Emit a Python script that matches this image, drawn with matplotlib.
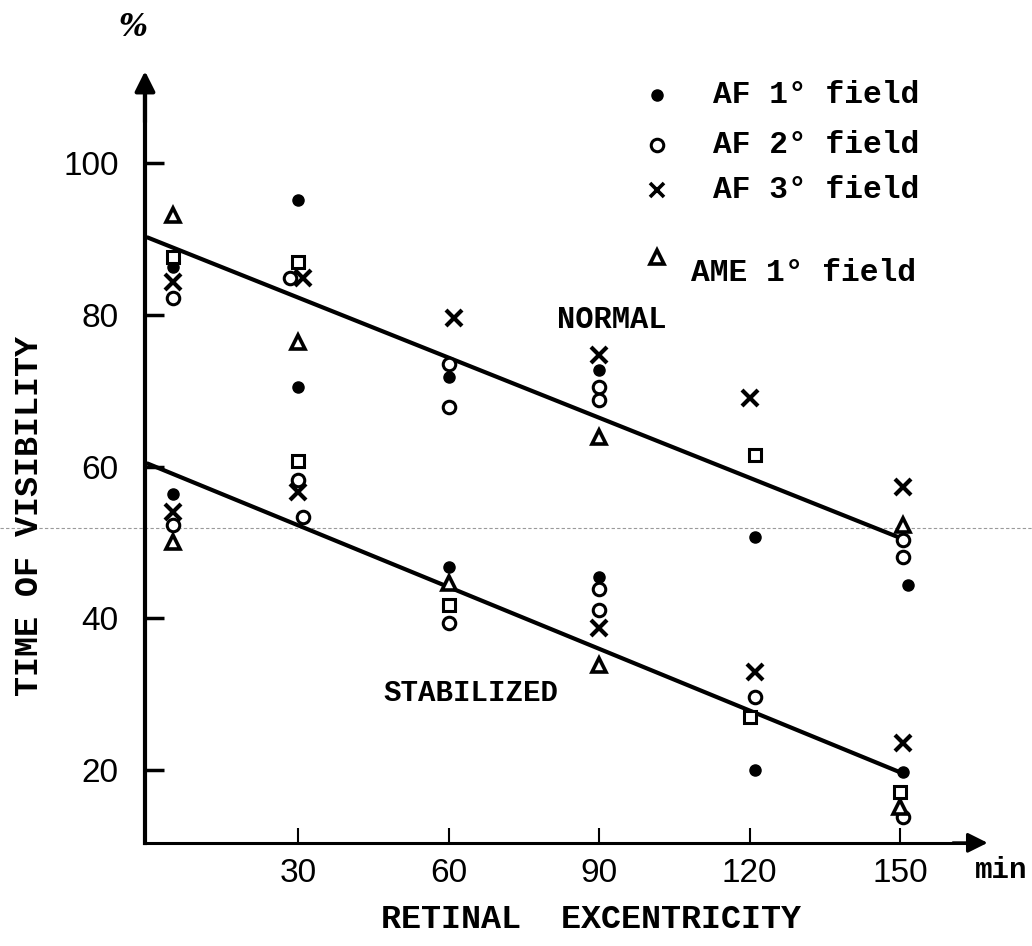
import matplotlib
matplotlib.use("Agg")
import matplotlib.pyplot as plt
from matplotlib.lines import Line2D

# ── Data ───────────────────────────────────────────────────────────────
af1_x = [5, 5, 30, 30, 60, 60, 90, 90, 121, 121, 151.5, 150.5]
af1_y = [86.3, 56.4, 95.1, 70.5, 71.8, 46.7, 72.7, 45.4, 50.7, 20.0, 44.4, 19.7]

af2_x = [5, 5, 28.5, 30, 31, 60, 60, 60, 90, 90, 90, 90, 121, 150.5, 150.5, 150.5]
af2_y = [82.2, 52.3, 84.8, 58.2, 53.4, 73.5, 67.8, 39.4, 70.5, 68.8, 43.8, 41.1, 29.6, 50.3, 48.1, 13.8]

af3_x = [5, 5, 31, 30, 61, 90, 90, 120, 121, 150.5, 150.5]
af3_y = [84.3, 54.0, 84.8, 56.7, 79.6, 74.7, 38.7, 69.0, 32.9, 57.3, 23.6]

ame_x = [5, 5, 30, 60, 90, 90, 150.5, 150]
ame_y = [93.1, 50.0, 76.4, 44.6, 63.9, 33.8, 52.3, 15.1]

sq_x = [5, 30, 30, 60, 121, 120, 150]
sq_y = [87.6, 86.9, 60.7, 41.7, 61.5, 27.0, 17.1]

# fitted lines (end points)
line_x = [0, 150]
normal_y = [90.2, 50.6]
stab_y = [60.4, 19.7]

x_ticks = [30, 60, 90, 120, 150]
y_ticks = [20, 40, 60, 80, 100]

legend_labels = ["AF 1\u00b0 field", "AF 2\u00b0 field", "AF 3\u00b0 field", "AME 1\u00b0 field"]

TYPE = "Liberation Mono"
SANS = "Liberation Sans"

fig = plt.figure(figsize=(10.32, 9.46), dpi=100)
ax = fig.add_axes([0, 0, 1, 1])
ax.set_xlim(-29.4, 176.3)
ax.set_ylim(-3.2, 121.5)

# axes drawn through the origin like the hand drawing
for s in ["top", "right"]:
    ax.spines[s].set_visible(False)
ax.spines["left"].set_position(("data", -0.5))
ax.spines["bottom"].set_position(("data", 10.4))
ax.spines["left"].set_linewidth(3)
ax.spines["bottom"].set_linewidth(2.2)
ax.spines["left"].set_bounds(10.4, 110)
ax.spines["bottom"].set_bounds(-0.5, 165)

ax.annotate("", xy=(168, 10.4), xytext=(160, 10.4),
            arrowprops=dict(arrowstyle="-|>", color="black", lw=2.2,
                            mutation_scale=30))
ax.annotate("", xy=(-0.5, 112.5), xytext=(-0.5, 105),
            arrowprops=dict(arrowstyle="-|>", color="black", lw=3,
                            mutation_scale=30))

ax.set_xticks(x_ticks)
ax.set_yticks(y_ticks)
ax.tick_params(axis="x", direction="in", length=11, width=1.5, pad=11,
               labelsize=24)
ax.tick_params(axis="y", direction="in", length=14, width=2.5, pad=19,
               labelsize=24)
for lab in ax.get_xticklabels() + ax.get_yticklabels():
    lab.set_fontfamily(SANS)

# scan artefact: faint dotted rule
ax.axhline(51.9, color="#9a9a9a", lw=0.8, ls=(0, (3, 2)), zorder=1)

# regression lines
ax.plot(line_x, normal_y, color="black", lw=3, solid_capstyle="round", zorder=3)
ax.plot(line_x, stab_y, color="black", lw=3, solid_capstyle="round", zorder=3)

mk = dict(linestyle="none", zorder=4, clip_on=False)
ax.plot(af1_x, af1_y, marker="o", ms=8, color="black", **mk)
ax.plot(af2_x, af2_y, marker="o", ms=9, mfc="white", mec="black", mew=2.2, **mk)
ax.plot(af3_x, af3_y, marker="x", ms=11, color="black", mew=3, **mk)
ax.plot(ame_x, ame_y, marker="^", ms=10, mfc="white", mec="black", mew=2.6, **mk)
ax.plot(sq_x, sq_y, marker="s", ms=8, mfc="white", mec="black", mew=2.2, **mk)

# labels
ax.text(92.6, 79.3, "NORMAL", family=TYPE, fontweight="bold", fontsize=22,
        ha="center", va="center")
ax.text(64.5, 30.1, "STABILIZED", family=TYPE, fontweight="bold", fontsize=21,
        ha="center", va="center")
fig.text(0.029, 0.455, "TIME OF VISIBILITY", family=TYPE, fontweight="bold",
         fontsize=24, rotation=90, ha="center", va="center")
fig.text(0.573, 0.028, "RETINAL  EXCENTRICITY", family=TYPE, fontweight="bold",
         fontsize=24, ha="center", va="center")
fig.text(0.97, 0.08, "min", family=TYPE, fontweight="bold", fontsize=21,
         ha="center", va="center")
fig.text(0.129, 0.971, "%", family="DejaVu Serif", style="italic",
         fontweight="bold", fontsize=22, ha="center", va="center")

# hand-made legend
leg_marker_x = 0.637
leg_rows = [0.8996, 0.8467, 0.799, 0.728]
leg_text = [(0.691, 0.8996), (0.691, 0.8467), (0.691, 0.799), (0.670, 0.711)]
leg_styles = [
    dict(marker="o", ms=8, color="black"),
    dict(marker="o", ms=9, mfc="white", mec="black", mew=2.2),
    dict(marker="x", ms=10, color="black", mew=2.6),
    dict(marker="^", ms=10, mfc="white", mec="black", mew=2.6),
]
for y, (tx, ty), style, label in zip(leg_rows, leg_text, leg_styles, legend_labels):
    fig.add_artist(Line2D([leg_marker_x], [y], linestyle="none",
                          transform=fig.transFigure, **style))
    fig.text(tx, ty, label, family=TYPE, fontweight="bold", fontsize=22.5,
             ha="left", va="center")

fig.savefig("out.png", dpi=100)
